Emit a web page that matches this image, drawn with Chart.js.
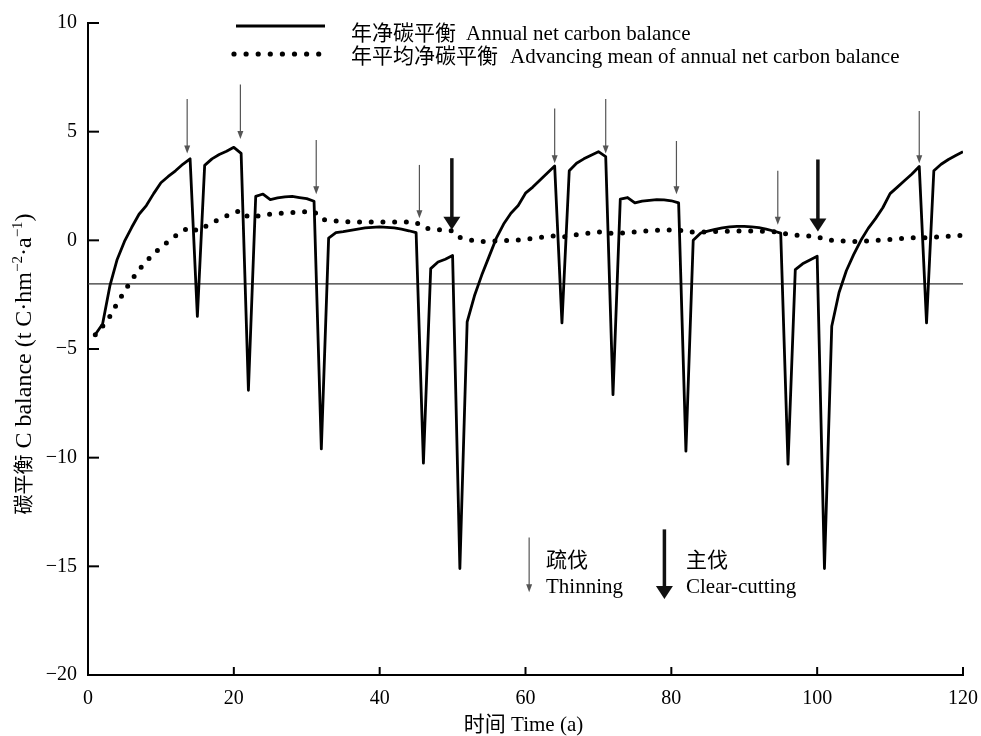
<!DOCTYPE html>
<html>
<head>
<meta charset="utf-8">
<script src="https://cdn.jsdelivr.net/npm/chart.js@4.4.1/dist/chart.umd.min.js"></script>
<style>
  html, body { margin: 0; padding: 0; background: #fff; }
  #wrap { width: 981px; height: 736px; }
</style>
</head>
<body>
<div id="wrap"><canvas id="chart" width="981" height="736"></canvas></div>
<script>
// 年份 (a)
const years = [
  1, 2, 3, 4, 5, 6, 7, 8, 9, 10, 11, 12, 13, 14, 15, 16, 17, 18, 19, 20,
  21, 22, 23, 24, 25, 26, 27, 28, 29, 30, 31, 32, 33, 34, 35, 36, 37, 38, 39, 40,
  41, 42, 43, 44, 45, 46, 47, 48, 49, 50, 51, 52, 53, 54, 55, 56, 57, 58, 59, 60,
  61, 62, 63, 64, 65, 66, 67, 68, 69, 70, 71, 72, 73, 74, 75, 76, 77, 78, 79, 80,
  81, 82, 83, 84, 85, 86, 87, 88, 89, 90, 91, 92, 93, 94, 95, 96, 97, 98, 99, 100,
  101, 102, 103, 104, 105, 106, 107, 108, 109, 110, 111, 112, 113, 114, 115, 116, 117, 118, 119, 120
];

// 年净碳平衡 Annual net carbon balance
const annualNet = [
  -4.33, -3.85, -2.1, -0.88, -0.05, 0.6, 1.2, 1.6, 2.15, 2.65, 2.94, 3.2, 3.5, 3.75, -3.5, 3.45, 3.75, 3.95, 4.1, 4.28,
  4.0, -6.9, 2.02, 2.13, 1.87, 1.95, 2.0, 2.02, 1.97, 1.92, 1.8, -9.6, 0.1, 0.35, 0.4, 0.46, 0.52, 0.57, 0.6, 0.62,
  0.6, 0.57, 0.52, 0.44, 0.35, -10.25, -1.3, -1.0, -0.87, -0.7, -15.1, -3.75, -2.55, -1.6, -0.75, 0.1, 0.75, 1.25, 1.6, 2.17,
  2.45, 2.78, 3.1, 3.42, -3.8, 3.2, 3.55, 3.75, 3.92, 4.08, 3.85, -7.1, 1.9, 1.97, 1.72, 1.8, 1.84, 1.87, 1.86, 1.82,
  1.72, -9.7, 0.0, 0.33, 0.42, 0.5, 0.57, 0.62, 0.64, 0.64, 0.62, 0.58, 0.52, 0.43, 0.33, -10.3, -1.35, -1.08, -0.9, -0.73,
  -15.1, -3.95, -2.4, -1.4, -0.66, 0.0, 0.55, 1.0, 1.5, 2.15, 2.45, 2.75, 3.05, 3.4, -3.8, 3.2, 3.5, 3.72, 3.9, 4.08
];

// 年平均净碳平衡 Advancing mean of annual net carbon balance
const advancingMean = [
  -4.35, -3.95, -3.5, -2.9, -2.35, -1.82, -1.35, -0.97, -0.62, -0.32, -0.05, 0.2, 0.43, 0.62, 0.43, 0.62, 0.8, 0.97, 1.12, 1.27,
  1.38, 1.06, 1.1, 1.16, 1.2, 1.23, 1.26, 1.28, 1.3, 1.32, 1.33, 0.97, 0.92, 0.89, 0.87, 0.85, 0.84, 0.84, 0.84, 0.84,
  0.84, 0.84, 0.84, 0.84, 0.83, 0.58, 0.53, 0.49, 0.46, 0.44, 0.13, 0.04, -0.02, -0.05, -0.05, -0.03, -0.02, 0.0, 0.02, 0.05,
  0.09, 0.13, 0.17, 0.21, 0.15, 0.2, 0.26, 0.3, 0.34, 0.38, 0.4, 0.3, 0.33, 0.36, 0.39, 0.42, 0.44, 0.46, 0.47, 0.48,
  0.49, 0.38, 0.38, 0.38, 0.39, 0.4, 0.41, 0.42, 0.43, 0.43, 0.43, 0.42, 0.41, 0.4, 0.38, 0.27, 0.24, 0.22, 0.2, 0.18,
  0.04, 0.0, -0.02, -0.04, -0.05, -0.04, -0.03, -0.01, 0.02, 0.04, 0.07, 0.1, 0.11, 0.13, 0.11, 0.14, 0.17, 0.19, 0.21, 0.23
];

// 参考线
const refLineX = [0, 120];
const refLineY = [-2, -2];

// 疏伐 Thinning 箭头 (年份, 箭尾, 箭头)
const thinX = [13.6, 20.9, 31.3, 45.45, 64.0, 71.0, 80.7, 94.6, 114.0];
const thinTop = [6.5, 7.17, 4.62, 3.47, 6.07, 6.5, 4.57, 3.2, 5.95];
const thinTip = [4.0, 4.66, 2.12, 1.02, 3.55, 4.0, 2.12, 0.72, 3.55];

// 主伐 Clear-cutting 箭头
const clearX = [49.9, 100.1];
const clearTop = [3.78, 3.72];
const clearTip = [0.49, 0.41];

const xTicks = [0, 20, 40, 60, 80, 100, 120];
const yTicks = [-20, -15, -10, -5, 0, 5, 10];

const SERIF = '"Liberation Serif", "Times New Roman", "Noto Sans CJK SC", serif';

function arrow(ctx, px, yTop, yTip, thick) {
  const headH = thick ? 13 : 8;
  const headW = thick ? 17 : 6;
  ctx.save();
  ctx.strokeStyle = thick ? '#111' : '#555';
  ctx.fillStyle = thick ? '#111' : '#555';
  ctx.lineWidth = thick ? 3.5 : 1.2;
  ctx.beginPath();
  ctx.moveTo(px, yTop);
  ctx.lineTo(px, yTip - headH + 1);
  ctx.stroke();
  ctx.beginPath();
  ctx.moveTo(px - headW / 2, yTip - headH);
  ctx.lineTo(px + headW / 2, yTip - headH);
  ctx.lineTo(px, yTip);
  ctx.closePath();
  ctx.fill();
  ctx.restore();
}

// 带上标的文字 [文字, 字号, 是否上标]
function richText(ctx, parts, x, y) {
  let cx = x;
  parts.forEach(([t, size, sup]) => {
    ctx.font = size + 'px ' + SERIF;
    ctx.fillText(t, cx, sup ? y - 9 : y);
    cx += ctx.measureText(t).width;
  });
  return cx - x;
}

function measureRich(ctx, parts) {
  let w = 0;
  parts.forEach(([t, size]) => {
    ctx.font = size + 'px ' + SERIF;
    w += ctx.measureText(t).width;
  });
  return w;
}

const decorations = {
  id: 'decorations',
  afterDraw(chart) {
    const {ctx, chartArea, scales: {x, y}} = chart;
    ctx.save();

    // 向内的刻度
    ctx.strokeStyle = '#000';
    ctx.lineWidth = 2;
    xTicks.forEach(v => {
      const px = x.getPixelForValue(v);
      ctx.beginPath();
      ctx.moveTo(px, chartArea.bottom);
      ctx.lineTo(px, chartArea.bottom - 8);
      ctx.stroke();
    });
    yTicks.forEach(v => {
      const py = y.getPixelForValue(v);
      ctx.beginPath();
      ctx.moveTo(chartArea.left, py);
      ctx.lineTo(chartArea.left + 11, py);
      ctx.stroke();
    });

    // 箭头
    thinX.forEach((v, i) => {
      arrow(ctx, x.getPixelForValue(v), y.getPixelForValue(thinTop[i]), y.getPixelForValue(thinTip[i]), false);
    });
    clearX.forEach((v, i) => {
      arrow(ctx, x.getPixelForValue(v), y.getPixelForValue(clearTop[i]), y.getPixelForValue(clearTip[i]), true);
    });

    // 图例
    ctx.strokeStyle = '#000';
    ctx.lineWidth = 3;
    ctx.beginPath();
    ctx.moveTo(236, 26);
    ctx.lineTo(325, 26);
    ctx.stroke();
    ctx.fillStyle = '#000';
    for (let i = 0; i < 8; i++) {
      ctx.beginPath();
      ctx.arc(234 + i * 12.1, 54, 2.6, 0, Math.PI * 2);
      ctx.fill();
    }
    ctx.textBaseline = 'alphabetic';
    ctx.textAlign = 'left';
    ctx.font = '21px ' + SERIF;
    ctx.fillText('年净碳平衡', 351, 40);
    ctx.fillText('Annual net carbon balance', 466, 40);
    ctx.fillText('年平均净碳平衡', 351, 63);
    ctx.fillText('Advancing mean of annual net carbon balance', 510, 63);

    // 说明
    ctx.fillText('疏伐', 546, 567);
    ctx.fillText('Thinning', 546, 593);
    ctx.fillText('主伐', 686, 567);
    ctx.fillText('Clear-cutting', 686, 593);
    arrow(ctx, x.getPixelForValue(60.5), y.getPixelForValue(-13.67), y.getPixelForValue(-16.19), false);
    arrow(ctx, x.getPixelForValue(79.05), y.getPixelForValue(-13.3), y.getPixelForValue(-16.5), true);

    // 坐标轴标题
    ctx.textAlign = 'center';
    ctx.font = '21px ' + SERIF;
    ctx.fillText('时间 Time (a)', (chartArea.left + chartArea.right) / 2 - 2, 731);

    const yParts = [
      ['碳平衡', 20, 0], [' C balance (t C·hm', 24, 0], ['−2', 15, 1],
      ['·a', 24, 0], ['−1', 15, 1], [')', 24, 0]
    ];
    ctx.save();
    ctx.translate(31, 364);
    ctx.rotate(-Math.PI / 2);
    ctx.textAlign = 'left';
    const w = measureRich(ctx, yParts);
    richText(ctx, yParts, -w / 2, 0);
    ctx.restore();

    ctx.restore();
  }
};

const ctx = document.getElementById('chart').getContext('2d');
new Chart(ctx, {
  type: 'line',
  data: {
    datasets: [
      {
        label: '年净碳平衡 Annual net carbon balance',
        data: years.map((v, i) => ({x: v, y: annualNet[i]})),
        borderColor: '#000',
        borderWidth: 2.8,
        borderJoinStyle: 'round',
        pointRadius: 0,
        tension: 0
      },
      {
        label: '年平均净碳平衡 Advancing mean of annual net carbon balance',
        data: years.map((v, i) => ({x: v, y: advancingMean[i]})),
        borderColor: '#000',
        borderWidth: 5,
        borderDash: [0, 11.7],
        borderCapStyle: 'round',
        pointRadius: 0,
        tension: 0
      },
      {
        label: 'ref',
        data: refLineX.map((v, i) => ({x: v, y: refLineY[i]})),
        borderColor: '#333',
        borderWidth: 1.2,
        pointRadius: 0
      }
    ]
  },
  options: {
    responsive: false,
    animation: false,
    layout: { padding: { top: 20, right: 18, left: 0, bottom: 0 } },
    plugins: {
      legend: { display: false },
      tooltip: { enabled: false }
    },
    scales: {
      x: {
        type: 'linear',
        min: 0,
        max: 120,
        ticks: {
          stepSize: 20,
          color: '#000',
          padding: 12,
          maxRotation: 0,
          font: { family: SERIF, size: 20 }
        },
        grid: { display: false, drawTicks: false },
        border: { display: true, color: '#000', width: 2 },
        afterFit: function(scale) {
          scale.height = 61;
          scale.paddingLeft = 0;
          scale.paddingRight = 0;
        }
      },
      y: {
        min: -20,
        max: 10,
        ticks: {
          stepSize: 5,
          color: '#000',
          padding: 11,
          font: { family: SERIF, size: 20 },
          callback: function(value) {
            return value < 0 ? '−' + Math.abs(value) : value;
          }
        },
        grid: { display: false, drawTicks: false },
        border: { display: true, color: '#000', width: 2 },
        afterFit: function(scale) { scale.width = 88; }
      }
    }
  },
  plugins: [decorations]
});
</script>
</body>
</html>
